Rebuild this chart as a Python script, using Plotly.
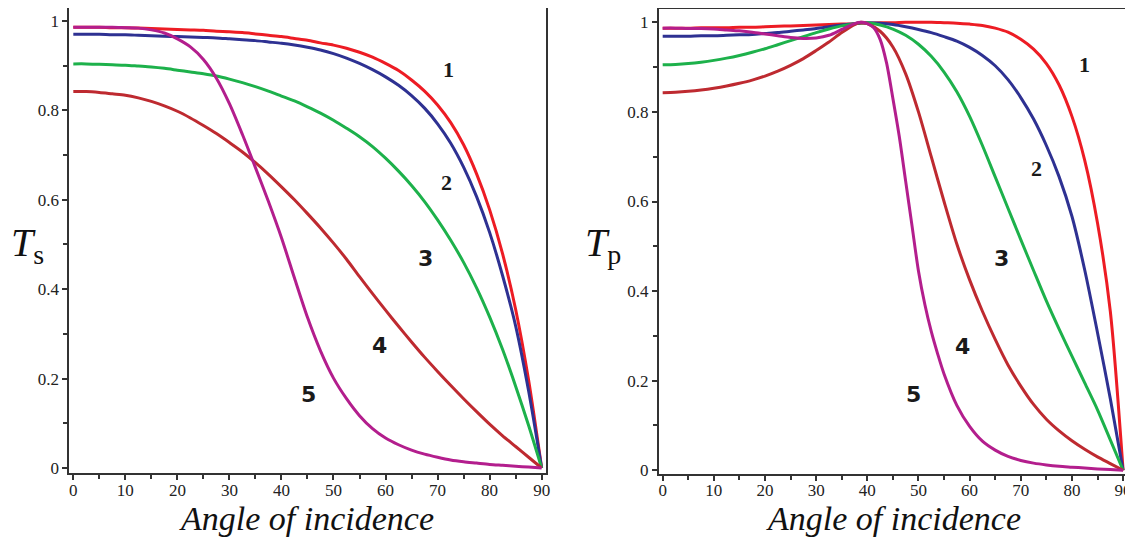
import plotly.graph_objects as go

# ---------------- data ----------------
# left panel: T_s, sampled every 2.5 degrees
ang_s = [0, 2.5, 5, 7.5, 10, 12.5, 15, 17.5, 20, 22.5, 25, 27.5, 30, 32.5, 35, 37.5, 40, 42.5,
         45, 47.5, 50, 52.5, 55, 57.5, 60, 62.5, 65, 67.5, 70, 72.5, 75, 77.5, 80, 82.5, 85,
         87.5, 90]
ts_1 = [0.986, 0.986, 0.986, 0.985, 0.985, 0.984, 0.983, 0.982, 0.981, 0.980, 0.979, 0.977,
        0.976, 0.974, 0.971, 0.968, 0.965, 0.961, 0.957, 0.951, 0.946, 0.939, 0.930, 0.919,
        0.905, 0.889, 0.868, 0.843, 0.812, 0.773, 0.723, 0.658, 0.578, 0.479, 0.355, 0.196, 0.0]
ts_2 = [0.970, 0.970, 0.970, 0.969, 0.969, 0.968, 0.967, 0.966, 0.965, 0.964, 0.963, 0.962,
        0.960, 0.958, 0.956, 0.953, 0.950, 0.946, 0.941, 0.935, 0.927, 0.917, 0.905, 0.891,
        0.875, 0.856, 0.833, 0.805, 0.770, 0.727, 0.673, 0.607, 0.527, 0.430, 0.318, 0.172, 0.0]
ts_3 = [0.904, 0.904, 0.903, 0.902, 0.901, 0.899, 0.897, 0.894, 0.890, 0.886, 0.882, 0.877,
        0.870, 0.862, 0.853, 0.843, 0.832, 0.821, 0.808, 0.794, 0.778, 0.760, 0.741, 0.719,
        0.693, 0.664, 0.632, 0.596, 0.555, 0.510, 0.460, 0.403, 0.338, 0.265, 0.183, 0.095, 0.0]
ts_4 = [0.842, 0.842, 0.840, 0.837, 0.834, 0.828, 0.820, 0.810, 0.798, 0.783, 0.766, 0.748,
        0.728, 0.707, 0.683, 0.657, 0.629, 0.600, 0.569, 0.537, 0.503, 0.467, 0.428, 0.390,
        0.353, 0.317, 0.282, 0.248, 0.216, 0.185, 0.155, 0.126, 0.098, 0.072, 0.048, 0.024, 0.0]
ts_5 = [0.986, 0.986, 0.986, 0.986, 0.985, 0.984, 0.980, 0.973, 0.960, 0.942, 0.914, 0.872,
        0.815, 0.746, 0.672, 0.596, 0.515, 0.425, 0.337, 0.262, 0.201, 0.155, 0.117, 0.088,
        0.067, 0.052, 0.040, 0.031, 0.024, 0.018, 0.014, 0.011, 0.008, 0.006, 0.004, 0.002, 0.0]

# right panel: T_p
ang_p = [0, 2.5, 5, 7.5, 10, 12.5, 15, 17.5, 20, 22.5, 25, 27.5, 30, 32.5, 35, 37.5, 38.75, 40,
         42.5, 45, 47.5, 50, 52.5, 55, 57.5, 60, 62.5, 65, 67.5, 70, 72.5, 75, 77.5, 80, 82.5,
         85, 87.5, 90]
tp_1 = [0.987, 0.987, 0.987, 0.988, 0.988, 0.988, 0.989, 0.989, 0.990, 0.991, 0.992, 0.993,
        0.994, 0.995, 0.996, 0.997, 0.998, 0.998, 0.999, 0.999, 1.0, 1.0, 1.0, 0.999, 0.998,
        0.996, 0.993, 0.987, 0.978, 0.962, 0.940, 0.908, 0.860, 0.790, 0.692, 0.552, 0.355, 0.0]
tp_2 = [0.969, 0.969, 0.969, 0.970, 0.970, 0.971, 0.972, 0.973, 0.975, 0.977, 0.980, 0.983,
        0.986, 0.990, 0.994, 0.997, 0.999, 0.999, 0.998, 0.995, 0.990, 0.984, 0.977, 0.968,
        0.958, 0.944, 0.926, 0.903, 0.872, 0.832, 0.784, 0.725, 0.655, 0.567, 0.447, 0.307,
        0.160, 0.0]
tp_3 = [0.905, 0.906, 0.908, 0.911, 0.915, 0.920, 0.926, 0.933, 0.941, 0.950, 0.959, 0.968,
        0.977, 0.985, 0.992, 0.997, 0.999, 0.999, 0.994, 0.985, 0.971, 0.951, 0.924, 0.889,
        0.845, 0.790, 0.725, 0.655, 0.585, 0.515, 0.446, 0.378, 0.315, 0.255, 0.195, 0.135,
        0.068, 0.0]
tp_4 = [0.843, 0.844, 0.846, 0.849, 0.853, 0.858, 0.864, 0.871, 0.880, 0.891, 0.904, 0.919,
        0.937, 0.956, 0.977, 0.995, 1.0, 0.997, 0.980, 0.945, 0.885, 0.800, 0.700, 0.600,
        0.505, 0.425, 0.355, 0.292, 0.235, 0.188, 0.147, 0.114, 0.088, 0.066, 0.047, 0.030,
        0.015, 0.0]
ang_p5 = [0, 2.5, 5, 7.5, 10, 12.5, 15, 17.5, 20, 22.5, 25, 27.5, 30, 32.5, 35, 37.5, 38.75,
          40, 41.25, 42.5, 43.75, 45, 46.25, 47.5, 48.75, 50, 51.25, 52.5, 53.75, 55, 57.5, 60,
          62.5, 65, 67.5, 70, 72.5, 75, 77.5, 80, 82.5, 85, 87.5, 90]
tp_5 = [0.987, 0.987, 0.986, 0.986, 0.985, 0.983, 0.981, 0.978, 0.974, 0.970, 0.966, 0.964,
        0.965, 0.971, 0.984, 0.997, 1.0, 0.997, 0.988, 0.962, 0.910, 0.830, 0.745, 0.645,
        0.545, 0.445, 0.370, 0.310, 0.260, 0.215, 0.145, 0.098, 0.065, 0.045, 0.031, 0.022,
        0.016, 0.012, 0.009, 0.007, 0.005, 0.003, 0.0015, 0.0]

curve_labels = ["1", "2", "3", "4", "5"]
x_title = "Angle of incidence"
x_ticks = [0, 10, 20, 30, 40, 50, 60, 70, 80, 90]
y_ticks = [0, 0.2, 0.4, 0.6, 0.8, 1]
y_ticktext = ["0", "0.2", "0.4", "0.6", "0.8", "1"]

colors = ["#ED1C24", "#2E3192", "#1DB14B", "#BE2A30", "#B31E8D"]

left_series = [(ang_s, ts_1), (ang_s, ts_2), (ang_s, ts_3), (ang_s, ts_4), (ang_s, ts_5)]
right_series = [(ang_p, tp_1), (ang_p, tp_2), (ang_p, tp_3), (ang_p, tp_4), (ang_p5, tp_5)]

# page pixels -> paper fractions (the page body adds an 8px offset)
OFF = 8
W, H = 1133 - OFF, 540 - OFF


def px(x):
    return (x - OFF) / W


def py(y):
    return min(1.0, 1 - (y - OFF) / H)


fig = go.Figure()
for (a, v), c in zip(left_series, colors):
    fig.add_trace(go.Scatter(x=a, y=v, mode="lines", xaxis="x", yaxis="y",
                             line=dict(color=c, width=3, shape="spline", smoothing=0.8),
                             showlegend=False, hoverinfo="skip"))
for (a, v), c in zip(right_series, colors):
    fig.add_trace(go.Scatter(x=a, y=v, mode="lines", xaxis="x2", yaxis="y2",
                             line=dict(color=c, width=3, shape="spline", smoothing=0.8),
                             showlegend=False, hoverinfo="skip"))

tickfont = dict(family="Liberation Serif", size=17, color="#222")
common = dict(showline=True, linecolor="#333", linewidth=2, mirror=True, ticks="outside",
              ticklen=5, tickwidth=1.5, tickcolor="#333", showgrid=False, zeroline=False,
              tickfont=tickfont, fixedrange=True, automargin=False)

xa = dict(common, tickvals=x_ticks, ticklabelstandoff=-5,
          minor=dict(ticks="outside", ticklen=4, tickwidth=1.5, tickcolor="#333",
                     dtick=5, tick0=0, showgrid=False))
ya = dict(common, tickvals=y_ticks, ticktext=y_ticktext,
          minor=dict(ticks="outside", ticklen=4, tickwidth=1.5, tickcolor="#333",
                     dtick=0.1, tick0=0, showgrid=False))

fig.update_layout(
    width=W, height=H,
    margin=dict(l=0, r=0, t=0, b=0),
    paper_bgcolor="white", plot_bgcolor="white",
    showlegend=False,
    xaxis=dict(xa, domain=[px(69.3), px(545.7)], range=[-0.77, 90.78], anchor="y"),
    yaxis=dict(ya, domain=[py(473.3), py(8)], range=[-0.0119, 1.029], anchor="x"),
    xaxis2=dict(xa, domain=[px(659), px(1128)], range=[-0.72, 90.96], anchor="y2"),
    yaxis2=dict(ya, domain=[py(474), py(9)], range=[-0.0083, 1.0297], anchor="x2"),
)

ann = []
# axis titles
for cx in (306, 893):
    ann.append(dict(x=px(cx), y=py(518), xref="paper", yref="paper", text="<i>" + x_title + "</i>",
                    showarrow=False, xanchor="center", yanchor="middle",
                    font=dict(family="Liberation Serif", size=34, color="#111")))
# T_s and T_p
for tx, sub in ((27, "s"), (603, "p")):
    ann.append(dict(x=px(tx), y=py(245), xref="paper", yref="paper",
                    text="<i>T</i><sub>" + sub + "</sub>",
                    showarrow=False, xanchor="center", yanchor="middle",
                    font=dict(family="Liberation Serif", size=40, color="#111")))

# curve number labels
left_pos = [(448, 70), (446, 182), (426, 258), (379, 345), (308, 394)]
right_pos = [(1084, 64), (1036, 168), (1001, 258), (962, 346), (913, 394)]
label_fonts = ["Liberation Serif", "Liberation Serif", "DejaVu Sans", "DejaVu Sans", "DejaVu Sans"]
for pos_list in (left_pos, right_pos):
    for (lx, ly), t, f in zip(pos_list, curve_labels, label_fonts):
        ann.append(dict(x=px(lx), y=py(ly), xref="paper", yref="paper", text="<b>" + t + "</b>",
                        showarrow=False, xanchor="center", yanchor="middle",
                        font=dict(family=f, size=22, color="#1a1a1a")))

fig.update_layout(annotations=ann)

fig.write_html("out.html", config={"displayModeBar": False})
